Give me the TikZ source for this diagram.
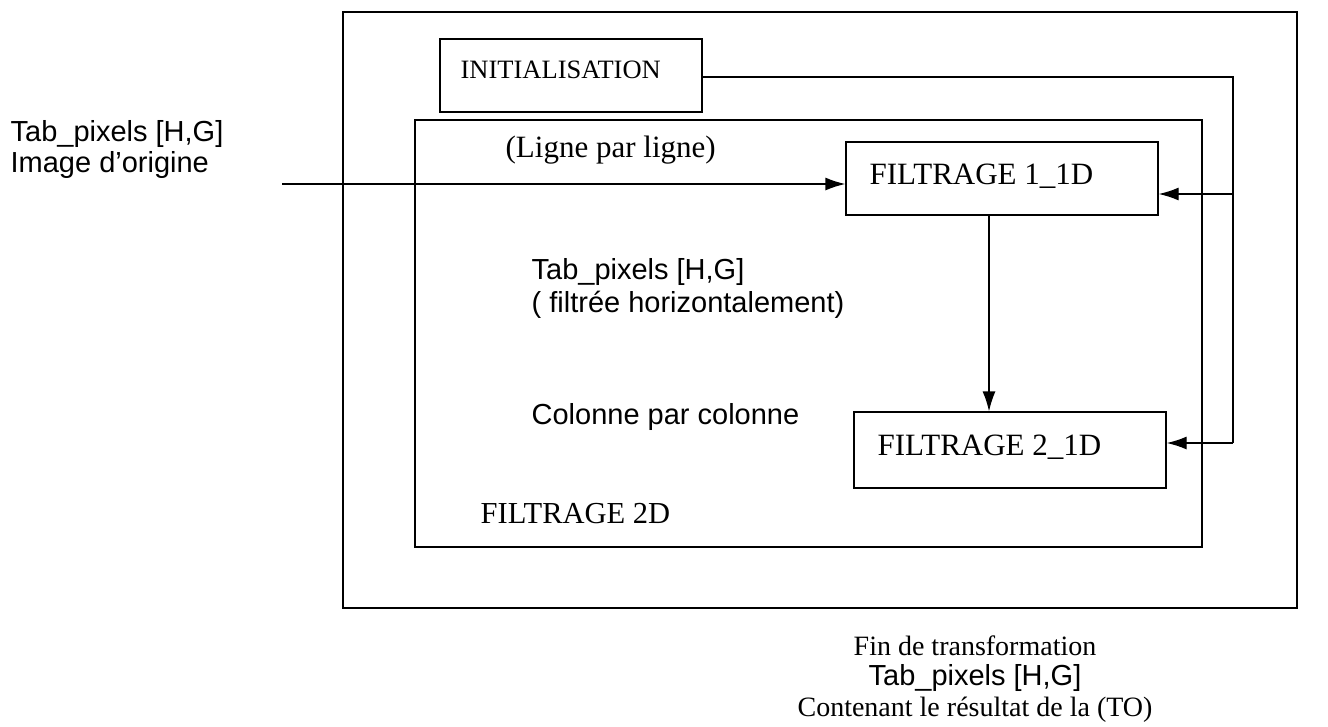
\documentclass[tikz,border=0pt]{standalone}
\usepackage{fontspec}
\setmainfont{Liberation Serif}
\setsansfont{Liberation Sans}
\usetikzlibrary{arrows.meta}
\begin{document}
\begin{tikzpicture}[x=1pt,y=-1pt,
  line width=1.3pt,
  frame/.style={draw,rectangle,inner sep=0pt},
  serif/.style={font=\fontsize{28}{32}\selectfont\rmfamily,inner sep=0pt},
  sans/.style={font=\fontsize{29}{32}\selectfont\sffamily,inner sep=0pt},
  arr/.style={-{Latex[length=20pt,width=13pt]}}]
\useasboundingbox (0,0) rectangle (1328,726);
% frames
\node[frame,minimum width=954,minimum height=596] (outer) at (820,310) {};
\node[frame,minimum width=787,minimum height=427] (inner) at (808.5,333.5) {};
\node[frame,minimum width=262,minimum height=73] (init) at (571,75.5) {};
\node[serif,font=\fontsize{26.5}{30}\selectfont\rmfamily,anchor=base west] (tinit) at (460,78) {INITIALISATION};
\node[serif,font=\fontsize{31}{30}\selectfont\rmfamily,anchor=base west] (tf1) at (869,184) {FILTRAGE 1\_1D};
\node[frame,minimum width=312,minimum height=73] (f1) at (1002,178.5) {};
\node[frame,minimum width=312,minimum height=76] (f2) at (1010,450) {};
\node[serif,font=\fontsize{31}{30}\selectfont\rmfamily,anchor=base west] (tf2) at (877,455) {FILTRAGE 2\_1D};
% labels
\node[sans,anchor=base west] (src1) at (10,141) {Tab\_pixels [H,G]};
\node[sans,anchor=base west] (src2) at (10,172) {Image d'origine};
\node[serif,font=\fontsize{31}{32}\selectfont\rmfamily,anchor=west] (ligne) at (505,150) {(Ligne par ligne)};
\node[sans,anchor=base west] (mid1) at (531,279) {Tab\_pixels [H,G]};
\node[sans,anchor=base west] (mid2) at (531,312) {( filtrée horizontalement)};
\node[sans,anchor=base west] (col) at (531,424) {Colonne par colonne};
\node[serif,font=\fontsize{30.5}{32}\selectfont\rmfamily,anchor=west] (f2d) at (480,514) {FILTRAGE 2D};
\node[serif] (fin) at (975,646) {Fin de transformation};
\node[sans] (tabres) at (975,678) {Tab\_pixels [H,G]};
\node[serif] (cont) at (975,710) {Contenant le résultat de la (TO)};
% connectors
\coordinate (in) at (282,184);
\coordinate (bus) at (1233,77);
\coordinate (vx) at (989,0);
\draw[arr] (in) -- (in -| f1.west);
\draw[arr] (f1.south -| vx) -- (f2.north -| vx);
\draw (init.east |- bus) -- (bus) -- (bus |- 0,443);
\draw[arr] (bus |- 0,443) -- (f2.east |- 0,443);
\draw[arr] (bus |- 0,194) -- (f1.east |- 0,194);
\end{tikzpicture}
\end{document}
